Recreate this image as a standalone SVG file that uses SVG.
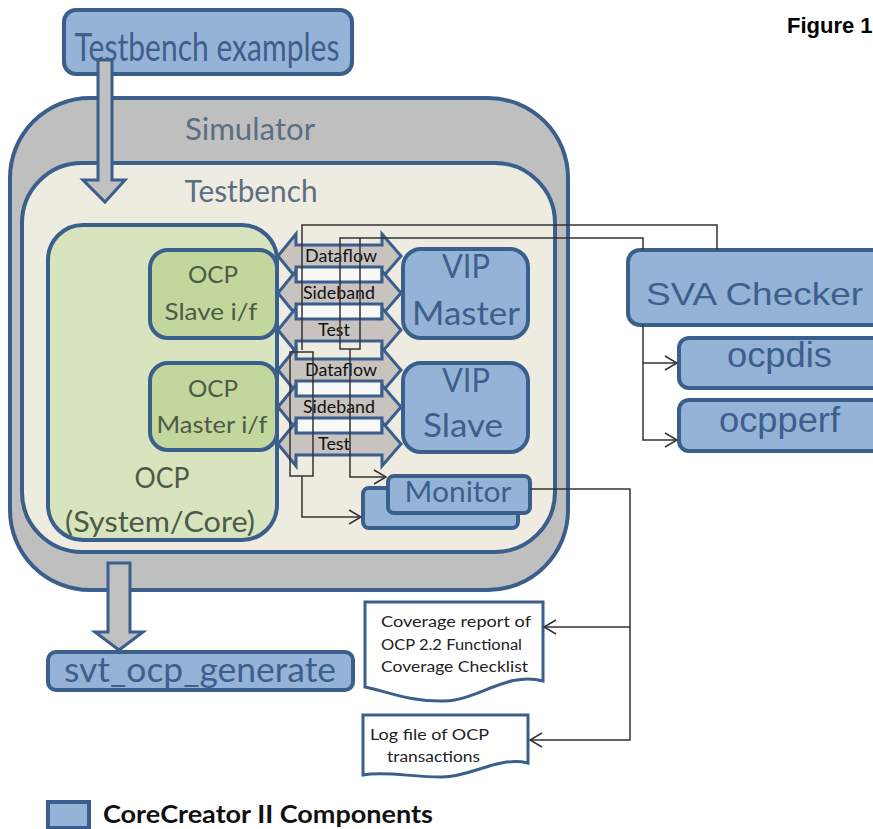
<svg xmlns="http://www.w3.org/2000/svg" width="873" height="829" viewBox="0 0 873 829">
<style>
.blue{fill:#95b3d7;stroke:#3b5f8d;stroke-width:4}
.bt{fill:#3e5f8c;font-family:Lato,"Liberation Sans",sans-serif;text-anchor:middle}
.gt{fill:#5b6e82;font-family:Lato,"Liberation Sans",sans-serif;text-anchor:middle}
.ot{fill:#4e5a48;font-family:Lato,"Liberation Sans",sans-serif;text-anchor:middle}
.at{fill:#3e5f8c;font-family:"Liberation Sans",Arial,sans-serif}
.bus{fill:#c8c3be;stroke:#3b5f8d;stroke-width:3;stroke-linejoin:miter}
.bl{fill:#111;font-family:Lato,"Liberation Sans",sans-serif;font-size:17px;text-anchor:middle}
.dt{fill:#222;font-family:Lato,"Liberation Sans",sans-serif;font-size:14.5px}
.doc{fill:#fff;stroke:#3b5f8d;stroke-width:3}
.bigarrow{fill:#c0c0c0;stroke:#3b5f8d;stroke-width:3}
.wire{fill:none;stroke:#333;stroke-width:1.5}
.wa{fill:none;stroke:#333;stroke-width:1.5;marker-end:url(#open)}
</style>
<defs>
<marker id="open" markerWidth="14" markerHeight="16" refX="13" refY="8" orient="auto" markerUnits="userSpaceOnUse">
<path d="M1,1 L13,8 L1,15" fill="none" stroke="#333" stroke-width="1.5"/>
</marker>
</defs>
<rect width="873" height="829" fill="#fff"/>

<g id="figure-label">
<text x="787" y="33" font-family="'Liberation Sans',Arial,sans-serif" font-weight="bold" font-size="22" fill="#000">Figure 1</text>
</g>

<g id="simulator">
<rect x="10" y="98" width="558" height="492" rx="80" ry="80" fill="#bfbfbf" stroke="#3b5f8d" stroke-width="4"/>
<text class="gt" x="250" y="140" font-size="30" textLength="130" lengthAdjust="spacingAndGlyphs">Simulator</text>
</g>

<g id="testbench">
<rect x="22" y="163" width="533" height="389" rx="60" ry="60" fill="#eeece1" stroke="#3b5f8d" stroke-width="4"/>
<text class="gt" x="251" y="202" font-size="30" textLength="133" lengthAdjust="spacingAndGlyphs">Testbench</text>
</g>

<g id="testbench-examples">
<rect class="blue" x="64" y="10" width="288" height="64" rx="12"/>
<text class="bt" x="207" y="61" font-size="38" textLength="265" lengthAdjust="spacingAndGlyphs">Testbench examples</text>
</g>

<g id="arrow-examples-to-testbench">
<path class="bigarrow" d="M98,60 H112 V180 H125 L105,202 L83,180 H98 Z"/>
</g>

<g id="ocp-system">
<rect x="48" y="225" width="229" height="315" rx="35" fill="#d7e4bd" stroke="#3b5f8d" stroke-width="4"/>
<text class="ot" x="162" y="488" font-size="28" textLength="55" lengthAdjust="spacingAndGlyphs">OCP</text>
<text class="ot" x="160" y="532" font-size="29" textLength="190" lengthAdjust="spacingAndGlyphs">(System/Core)</text>
</g>

<g id="ocp-slave-if">
<rect x="150" y="250" width="127" height="88" rx="18" fill="#c3d69b" stroke="#3b5f8d" stroke-width="4"/>
<text class="ot" x="213" y="283" font-size="24" textLength="50" lengthAdjust="spacingAndGlyphs">OCP</text>
<text class="ot" x="211" y="320" font-size="24" textLength="93" lengthAdjust="spacingAndGlyphs">Slave i/f</text>
</g>

<g id="ocp-master-if">
<rect x="150" y="363" width="127" height="87" rx="18" fill="#c3d69b" stroke="#3b5f8d" stroke-width="4"/>
<text class="ot" x="213" y="397" font-size="24" textLength="50" lengthAdjust="spacingAndGlyphs">OCP</text>
<text class="ot" x="212" y="433" font-size="24" textLength="111" lengthAdjust="spacingAndGlyphs">Master i/f</text>
</g>

<g id="bus-upper">
<rect x="296" y="245" width="86" height="96" fill="#f8f8f6"/>
<path class="bus" d="M278,256 L296,234 L296,245 L382,245 L382,234 L401,256 L382,278 L382,267 L296,267 L296,278 Z"/>
<path class="bus" d="M278,293 L296,271 L296,282 L382,282 L382,271 L401,293 L382,315 L382,304 L296,304 L296,315 Z"/>
<path class="bus" d="M278,330 L296,308 L296,319 L382,319 L382,308 L401,330 L382,352 L382,341 L296,341 L296,352 Z"/>
<text class="bl" x="341" y="262" textLength="72" lengthAdjust="spacingAndGlyphs">Dataflow</text>
<text class="bl" x="339" y="299" textLength="72" lengthAdjust="spacingAndGlyphs">Sideband</text>
<text class="bl" x="334" y="336" textLength="32" lengthAdjust="spacingAndGlyphs">Test</text>
</g>

<g id="bus-lower">
<rect x="296" y="359" width="86" height="96" fill="#f8f8f6"/>
<path class="bus" d="M278,370 L296,348 L296,359 L382,359 L382,348 L401,370 L382,392 L382,381 L296,381 L296,392 Z"/>
<path class="bus" d="M278,407 L296,385 L296,396 L382,396 L382,385 L401,407 L382,429 L382,418 L296,418 L296,429 Z"/>
<path class="bus" d="M278,444 L296,422 L296,433 L382,433 L382,422 L401,444 L382,466 L382,455 L296,455 L296,466 Z"/>
<text class="bl" x="341" y="376" textLength="72" lengthAdjust="spacingAndGlyphs">Dataflow</text>
<text class="bl" x="339" y="413" textLength="72" lengthAdjust="spacingAndGlyphs">Sideband</text>
<text class="bl" x="334" y="450" textLength="32" lengthAdjust="spacingAndGlyphs">Test</text>
</g>

<g id="vip-master">
<rect class="blue" x="403" y="249" width="125" height="89" rx="18"/>
<text class="bt" x="466" y="278" font-size="32" textLength="48" lengthAdjust="spacingAndGlyphs">VIP</text>
<text class="bt" x="466" y="325" font-size="32" textLength="108" lengthAdjust="spacingAndGlyphs">Master</text>
</g>

<g id="vip-slave">
<rect class="blue" x="403" y="363" width="125" height="89" rx="18"/>
<text class="bt" x="466" y="392" font-size="32" textLength="48" lengthAdjust="spacingAndGlyphs">VIP</text>
<text class="bt" x="463" y="437" font-size="32" textLength="80" lengthAdjust="spacingAndGlyphs">Slave</text>
</g>

<g id="monitor">
<rect class="blue" x="363" y="488" width="155" height="40" rx="6"/>
<rect class="blue" x="388" y="476" width="142" height="37" rx="6"/>
<text class="bt" x="458" y="502" font-size="28" textLength="107" lengthAdjust="spacingAndGlyphs">Monitor</text>
</g>

<g id="sva-checker">
<rect class="blue" x="628" y="250" width="260" height="75" rx="12"/>
<text class="at" x="646" y="305" font-size="32" textLength="217" lengthAdjust="spacingAndGlyphs">SVA Checker</text>
</g>

<g id="ocpdis">
<rect class="blue" x="679" y="338" width="210" height="50" rx="10"/>
<text class="at" x="727" y="367" font-size="35" textLength="105" lengthAdjust="spacingAndGlyphs">ocpdis</text>
</g>

<g id="ocpperf">
<rect class="blue" x="679" y="400" width="210" height="51" rx="10"/>
<text class="at" x="719" y="432" font-size="35" textLength="121" lengthAdjust="spacingAndGlyphs">ocpperf</text>
</g>

<g id="arrow-simulator-to-generate">
<path class="bigarrow" d="M108,563 H130 V632 H143 L119,650 L95,632 H108 Z"/>
</g>

<g id="svt-ocp-generate">
<rect class="blue" x="48" y="652" width="305" height="38" rx="8"/>
<text class="bt" x="200" y="682" font-size="34" textLength="272" lengthAdjust="spacingAndGlyphs">svt_ocp_generate</text>
</g>

<g id="coverage-report">
<path class="doc" d="M365,602 H543 V681 C508,671 478,700 445,701 C412,702 388,692 365,687 Z"/>
<text class="dt" x="381" y="627" textLength="150" lengthAdjust="spacingAndGlyphs">Coverage report  of</text>
<text class="dt" x="381" y="650" textLength="141" lengthAdjust="spacingAndGlyphs">OCP 2.2  Functional</text>
<text class="dt" x="381" y="672" textLength="147" lengthAdjust="spacingAndGlyphs">Coverage Checklist</text>
</g>

<g id="log-file">
<path class="doc" d="M363,715 H528 V763 C497,756 472,777 442,777 C410,777 386,771 363,775 Z"/>
<text class="dt" x="370" y="740" textLength="119" lengthAdjust="spacingAndGlyphs">Log file of OCP</text>
<text class="dt" x="387" y="762" textLength="93" lengthAdjust="spacingAndGlyphs">transactions</text>
</g>

<g id="connectors">
<polyline class="wire" points="717,250 717,225 302,225 302,350"/>
<polyline class="wire" points="643,250 643,238 340,238 340,349 360,349 360,238"/>
<polyline class="wa" points="350,349 350,477 386,477"/>
<polygon class="wire" points="290,352 313,352 313,476 290,476"/>
<polyline class="wa" points="302,476 302,517 361,517"/>
<polyline class="wa" points="643,325 643,440 677,440"/>
<polyline class="wa" points="643,363 677,363"/>
<polyline class="wa" points="530,489 630,489 630,740 530,740"/>
<polyline class="wa" points="630,627 544,627"/>
</g>

<g id="legend">
<rect class="blue" x="48" y="802" width="41" height="26" stroke-width="3"/>
<text x="103" y="823" font-family="Lato,'Liberation Sans',sans-serif" font-weight="bold" font-size="25" fill="#111" textLength="330" lengthAdjust="spacingAndGlyphs">CoreCreator II Components</text>
</g>
</svg>
